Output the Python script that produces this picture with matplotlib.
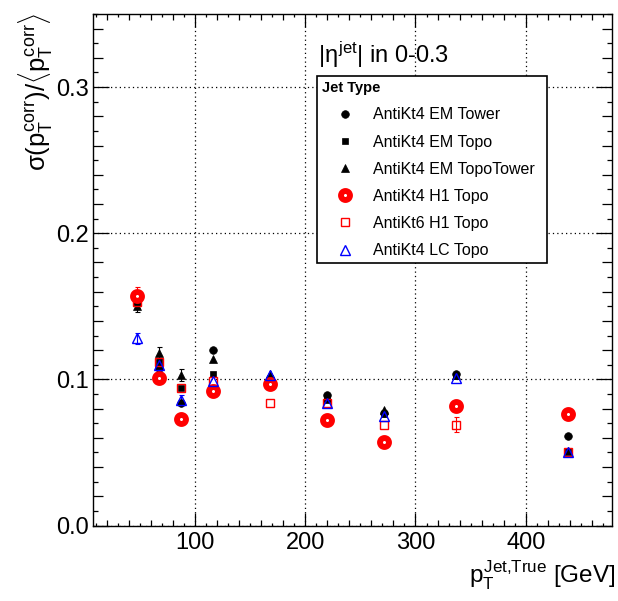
import matplotlib
matplotlib.use('Agg')
import matplotlib.pyplot as plt
from matplotlib.ticker import MultipleLocator, FormatStrFormatter

plt.rcParams['font.family'] = ['Liberation Sans', 'DejaVu Sans']
plt.rcParams['mathtext.fontset'] = 'custom'
plt.rcParams['mathtext.rm'] = 'Liberation Sans'
plt.rcParams['mathtext.it'] = 'Liberation Sans'
plt.rcParams['mathtext.bf'] = 'Liberation Sans:bold'

# Data: resolution vs true jet pT, |eta| in 0-0.3
pt_true = [47, 67, 87, 116, 168, 220, 271, 337, 438]

# errors of 0 are hidden under the marker in the original
em_tower = [0.153, 0.108, 0.084, 0.120, 0.101, 0.089, 0.077, 0.104, 0.061]
em_tower_err = [0.003, 0, 0, 0, 0, 0, 0, 0, 0]
em_topo = [0.152, 0.112, 0.094, 0.104, 0.095, 0.086, 0.076, 0.102, 0.051]
em_topo_err = [0.003, 0, 0, 0, 0, 0, 0, 0, 0]
em_topotower = [0.150, 0.118, 0.103, 0.114, 0.104, 0.088, 0.079, 0.103, 0.051]
em_topotower_err = [0.004, 0.004, 0.004, 0, 0, 0, 0, 0, 0]
h1_topo = [0.157, 0.101, 0.073, 0.092, 0.097, 0.072, 0.057, 0.082, 0.076]
h1_topo_err = [0.006, 0, 0, 0, 0, 0, 0, 0, 0]
kt6_h1_topo = [0.153, 0.112, 0.094, 0.099, 0.084, 0.084, 0.069, 0.069, 0.050]
kt6_h1_topo_err = [0, 0, 0, 0, 0, 0, 0, 0.005, 0]
lc_topo = [0.128, 0.110, 0.086, 0.099, 0.103, 0.084, 0.075, 0.101, 0.050]
lc_topo_err = [0.004, 0.004, 0.003, 0, 0, 0, 0, 0, 0]

series = [
    ('AntiKt4 EM Tower', em_tower, em_tower_err, dict(marker='o', ms=5.5, mfc='black', mec='black', mew=0.5, color='black')),
    ('AntiKt4 EM Topo', em_topo, em_topo_err, dict(marker='s', ms=5.0, mfc='black', mec='black', mew=0.5, color='black')),
    ('AntiKt4 EM TopoTower', em_topotower, em_topotower_err, dict(marker='^', ms=5.5, mfc='black', mec='black', mew=0.5, color='black')),
    ('AntiKt4 H1 Topo', h1_topo, h1_topo_err, dict(marker='o', ms=6.5, mfc='white', mec='red', mew=4.2, color='red')),
    ('AntiKt6 H1 Topo', kt6_h1_topo, kt6_h1_topo_err, dict(marker='s', ms=6.0, mfc='none', mec='red', mew=1.0, color='red')),
    ('AntiKt4 LC Topo', lc_topo, lc_topo_err, dict(marker='^', ms=7.0, mfc='none', mec='blue', mew=1.0, color='blue')),
]

W, H = 618, 601
fig = plt.figure(figsize=(W / 100, H / 100), dpi=100)
ax = fig.add_axes([92.7 / W, 1 - 525.5 / H, (611.7 - 92.7) / W, (525.5 - 14) / H])

handles = []
for label, vals, errs, st in series:
    ex = [x for x, e in zip(pt_true, errs) if e > 0]
    ey = [v for v, e in zip(vals, errs) if e > 0]
    ee = [e for e in errs if e > 0]
    if ee:
        ax.errorbar(ex, ey, yerr=ee, fmt='none', ecolor=st['color'], elinewidth=0.8,
                    capsize=1.8, capthick=0.8, zorder=3)
    line, = ax.plot(pt_true, vals, linestyle='none', marker=st['marker'], markersize=st['ms'],
                    markerfacecolor=st['mfc'], markeredgecolor=st['mec'], markeredgewidth=st['mew'], zorder=4)
    handles.append(line)

ax.set_xlim(7.2, 478)
ax.set_ylim(0, 0.35)

ax.xaxis.set_major_locator(MultipleLocator(100))
ax.xaxis.set_minor_locator(MultipleLocator(10))
ax.yaxis.set_major_locator(MultipleLocator(0.1))
ax.yaxis.set_minor_locator(MultipleLocator(0.01))
ax.yaxis.set_major_formatter(FormatStrFormatter('%.1f'))

ax.tick_params(which='both', direction='in', top=True, right=True, width=0.9, colors='black', labelsize=17)
ax.tick_params(axis='x', which='major', length=9.4, pad=5)
ax.tick_params(axis='y', which='major', length=11.5, pad=3)
for s in ax.spines.values():
    s.set_linewidth(1.0)

ax.grid(which='major', color='black', linestyle=(0, (1, 2.5)), linewidth=0.9)
ax.set_axisbelow(True)

# medium ticks at every second minor tick, like ROOT
xlocs = ax.xaxis.get_minorticklocs()
for loc, tick in zip(xlocs, ax.xaxis.get_minor_ticks(len(xlocs))):
    ln = 4.3 if round(loc / 10) % 2 == 0 else 2.4
    tick.tick1line.set_markersize(ln)
    tick.tick2line.set_markersize(ln)
ylocs = ax.yaxis.get_minorticklocs()
for loc, tick in zip(ylocs, ax.yaxis.get_minor_ticks(len(ylocs))):
    ln = 7.2 if round(loc * 100) % 2 == 0 else 3.6
    tick.tick1line.set_markersize(ln)
    tick.tick2line.set_markersize(ln)

fig.text(318 / W, 1 - 63 / H, r'$|\eta^{jet}|$ in 0-0.3', fontsize=17, va='baseline')

fig.text(36 / W, 1 - 13 / H, r'$\sigma(p_{T}^{corr})/\langle p_{T}^{corr}\rangle$',
         rotation=90, ha='center', va='top', fontsize=18.5)
fig.text(615 / W, 1 - 583 / H, r'$p_{T}^{Jet{,}True}$ [GeV]', ha='right', va='baseline', fontsize=17.5)

leg = ax.legend(handles, [s[0] for s in series], title='Jet Type', loc='upper left',
                bbox_to_anchor=(317 / W, 1 - 263 / H, 230 / W, 187 / H), mode='expand',
                bbox_transform=fig.transFigure,
                borderaxespad=0, fontsize=11.5, title_fontproperties={'weight': 'bold', 'size': 10.5},
                alignment='left', fancybox=False, edgecolor='black', framealpha=1,
                borderpad=0.33, handlelength=2.9, handletextpad=0.3, labelspacing=0.76, numpoints=1)
leg.get_frame().set_linewidth(1.2)

fig.savefig('out.png', dpi=100)
